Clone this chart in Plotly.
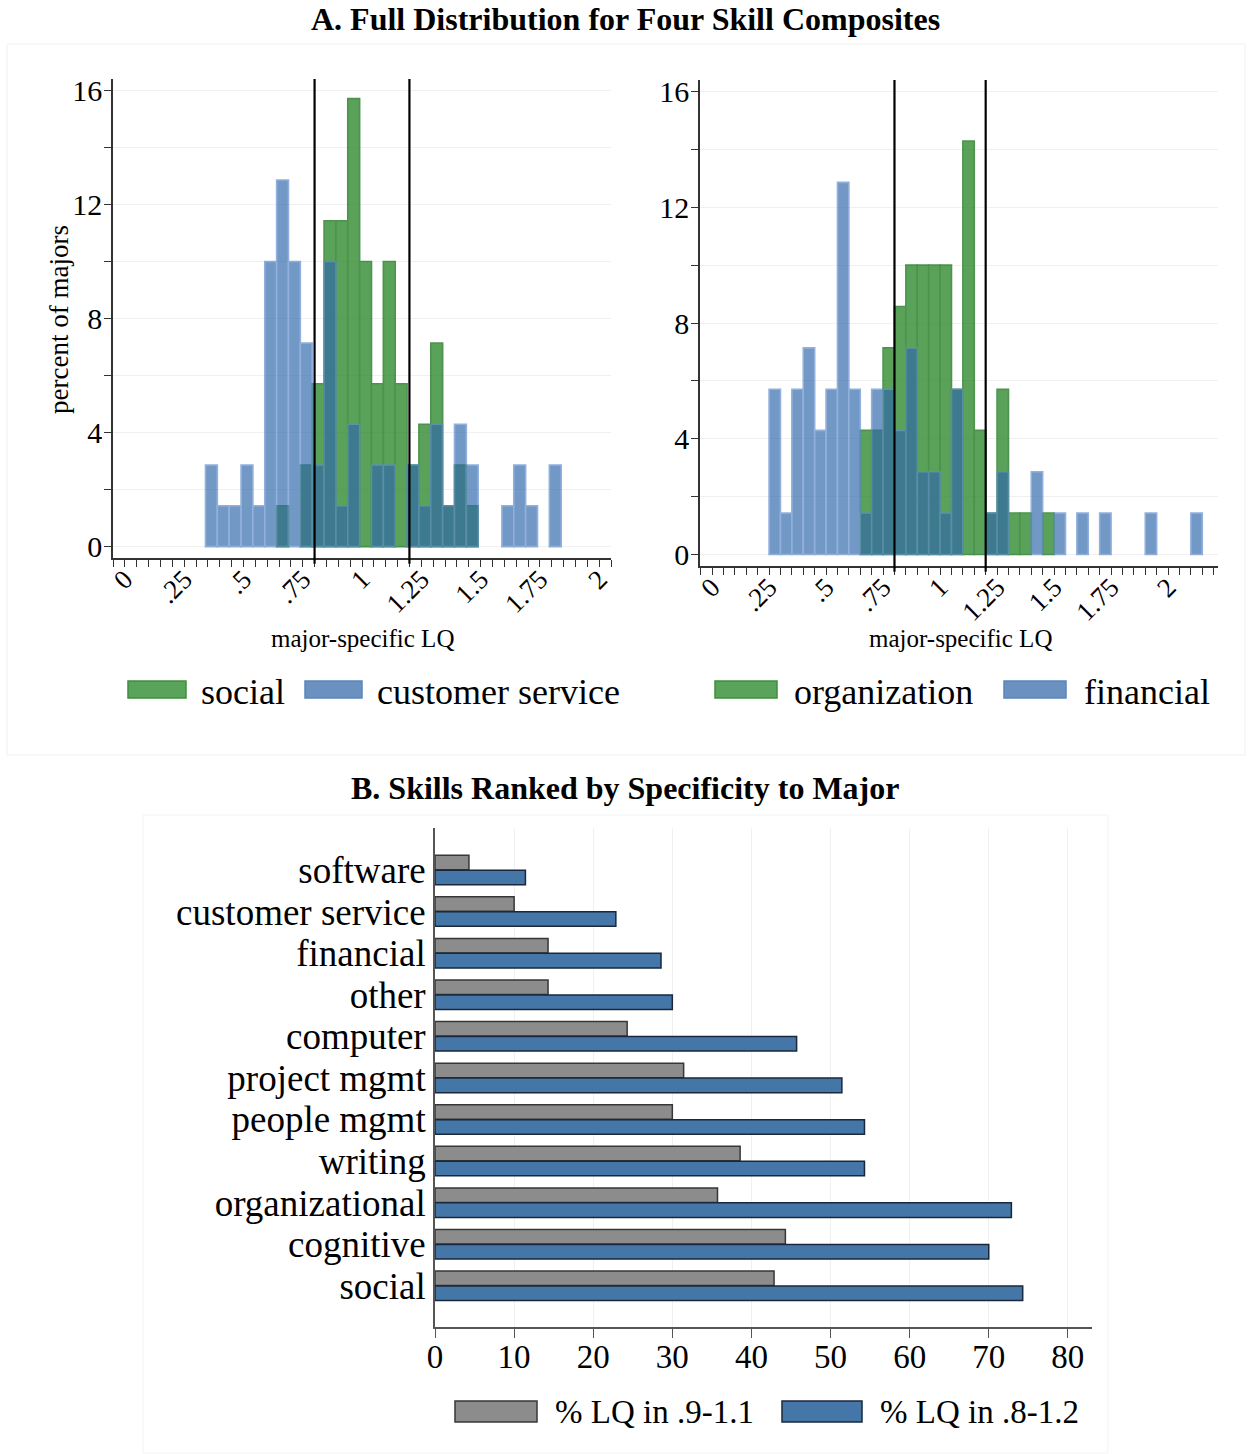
import plotly.graph_objects as go

# ---------------- data ----------------
bin_width = 0.05
left_bin_start = 0.34
social_pct = [0, 0, 0, 0, 0, 0, 1.43, 0, 2.86, 5.71, 11.43, 11.43, 15.71, 10, 5.71,
              10, 5.71, 2.86, 4.29, 7.14, 1.43, 2.86, 1.43, 0, 0, 0, 0, 0, 0, 0]
custserv_pct = [2.86, 1.43, 1.43, 2.86, 1.43, 10, 12.86, 10, 7.14, 2.86, 10, 1.43, 4.29, 0, 2.86,
                2.86, 0, 2.86, 1.43, 4.29, 1.43, 4.29, 2.86, 0, 0, 1.43, 2.86, 1.43, 0, 2.86]

org_bin_start = 0.65
organization_pct = [4.29, 4.29, 7.14, 8.57, 10, 10, 10, 10, 5.71, 14.29, 4.29, 1.43, 5.71, 1.43, 1.43, 0, 1.43]
fin_bin_start = 0.25
financial_pct = [5.71, 1.43, 5.71, 7.14, 4.29, 5.71, 12.86, 5.71, 1.43, 5.71, 5.71, 4.29, 7.14, 2.86, 2.86,
                 1.43, 5.71, 0, 0, 1.43, 2.86, 0, 0, 2.86, 0, 1.43, 0, 1.43, 0, 1.43, 0, 0, 0, 1.43,
                 0, 0, 0, 1.43]

lq_band = [0.8, 1.2]
lq_tickvals = [0, 0.25, 0.5, 0.75, 1, 1.25, 1.5, 1.75, 2]
lq_ticktext = ["0", ".25", ".5", ".75", "1", "1.25", "1.5", "1.75", "2"]

skills = ["software", "customer service", "financial", "other", "computer", "project mgmt",
          "people mgmt", "writing", "organizational", "cognitive", "social"]
pct_lq_narrow = [4.29, 10, 14.29, 14.29, 24.29, 31.43, 30, 38.57, 35.71, 44.29, 42.86]
pct_lq_wide = [11.43, 22.86, 28.57, 30, 45.71, 51.43, 54.29, 54.29, 72.86, 70, 74.29]

# ---------------- helpers ----------------
W, H = 1250, 1454
FONT = "Liberation Serif"


def xd(a, b):
    return [a / W, b / W]


def yd(top, bottom):
    return [1 - bottom / H, 1 - top / H]


def centers(start, n):
    return [start + bin_width * (i + 0.5) for i in range(n)]


def nonzero(vals):
    return [v if v > 0 else None for v in vals]


GREEN = "rgb(35,132,35)"
GREEN_LINE = "rgb(18,112,18)"
BLUE = "rgb(48,104,170)"
BLUE_LINE = "rgb(95,140,205)"

fig = go.Figure()


def hist_trace(xs, ys, color, line, op, xa, ya):
    return go.Bar(x=xs, y=nonzero(ys), width=bin_width,
                  marker=dict(color=color, line=dict(color=line, width=1.6)),
                  opacity=op, xaxis=xa, yaxis=ya, showlegend=False, hoverinfo="skip")


fig.add_trace(hist_trace(centers(left_bin_start, len(social_pct)), social_pct, GREEN, GREEN_LINE, 0.75, "x", "y"))
fig.add_trace(hist_trace(centers(left_bin_start, len(custserv_pct)), custserv_pct, BLUE, BLUE_LINE, 0.68, "x", "y"))
fig.add_trace(hist_trace(centers(org_bin_start, len(organization_pct)), organization_pct, GREEN, GREEN_LINE, 0.75, "x2", "y2"))
fig.add_trace(hist_trace(centers(fin_bin_start, len(financial_pct)), financial_pct, BLUE, BLUE_LINE, 0.68, "x2", "y2"))

# bottom grouped horizontal bars (manual offsets since layout is overlay)
fig.add_trace(go.Bar(y=skills, x=pct_lq_narrow, orientation="h", width=0.35, offset=-0.355,
                     marker=dict(color="rgb(140,140,140)", line=dict(color="rgb(55,55,55)", width=1.5)),
                     xaxis="x3", yaxis="y3", showlegend=False, hoverinfo="skip"))
fig.add_trace(go.Bar(y=skills, x=pct_lq_wide, orientation="h", width=0.35, offset=0.005,
                     marker=dict(color="rgb(68,118,168)", line=dict(color="rgb(25,40,60)", width=1.5)),
                     xaxis="x3", yaxis="y3", showlegend=False, hoverinfo="skip"))

# reference lines
for xa in ["x", "x2"]:
    for v in lq_band:
        fig.add_shape(type="line", xref=xa, yref=("y" if xa == "x" else "y2") + " domain",
                      x0=v, x1=v, y0=-0.012, y1=1, line=dict(color="black", width=2.2), layer="above")

AX = "#333333"
GRID = "#f0f0f0"


def hist_xaxis(domain, rng, anchor):
    return dict(domain=domain, range=rng, anchor=anchor, showline=True, linecolor=AX, linewidth=1.5,
                tickmode="array", tickvals=lq_tickvals, ticktext=lq_ticktext, tickangle=-45,
                ticks="outside", ticklen=7, tickcolor=AX, tickwidth=1.3, ticklabelstandoff=-14,
                minor=dict(dtick=0.05, tick0=0, ticks="outside", ticklen=7, tickcolor=AX, tickwidth=1.3),
                tickfont=dict(family=FONT, size=27, color="black"), showgrid=False, zeroline=False,
                automargin=False)


def hist_yaxis(domain, anchor):
    return dict(domain=domain, range=[-0.4, 16.4], anchor=anchor, showline=True, linecolor=AX, linewidth=1.5,
                tickmode="linear", tick0=0, dtick=4, ticks="outside", ticklen=7, tickcolor=AX, tickwidth=1.3,
                ticklabelstandoff=-4,
                minor=dict(dtick=2, tick0=0, ticks="outside", ticklen=7, tickcolor=AX, tickwidth=1.3,
                           showgrid=True, gridcolor=GRID, gridwidth=1),
                showgrid=True, gridcolor=GRID, gridwidth=1,
                tickfont=dict(family=FONT, size=30, color="black"), zeroline=False, automargin=False)


fig.update_layout(
    width=W, height=H, margin=dict(l=0, r=0, t=0, b=0), template="none",
    paper_bgcolor="white", plot_bgcolor="white", barmode="overlay", showlegend=False,
    font=dict(family=FONT, color="black"),
    xaxis=hist_xaxis(xd(113, 611), [-0.05, 2.05], "y"),
    yaxis=hist_yaxis(yd(79, 558), "x"),
    xaxis2=hist_xaxis(xd(700, 1218), [-0.053, 2.219], "y2"),
    yaxis2=hist_yaxis(yd(80, 566), "x2"),
    xaxis3=dict(domain=xd(435, 1092), range=[0, 83.05], anchor="y3", showline=True, linecolor="#555555",
                linewidth=1.8, tickmode="linear", tick0=0, dtick=10, ticks="outside", ticklen=9,
                tickcolor="#555555", tickwidth=1.3, showgrid=True, gridcolor=GRID, gridwidth=1,
                ticklabelstandoff=-10,
                tickfont=dict(family=FONT, size=33, color="black"), zeroline=False, automargin=False),
    yaxis3=dict(domain=yd(828, 1327), range=[10.99, -1.01], anchor="x3", type="category",
                categoryorder="array", categoryarray=skills, tickmode="array", tickvals=skills,
                ticktext=skills, showline=True, linecolor="#555555",
                linewidth=1.8, ticks="", showgrid=False, zeroline=False,
                tickfont=dict(family=FONT, size=37, color="black"), automargin=False),
)


def px_x(v):
    return v / W


def px_y(v):
    return 1 - v / H


anns = []


def text(x, y, s, size, xanchor="center", bold=False, angle=0):
    anns.append(dict(x=px_x(x), y=px_y(y), xref="paper", yref="paper", text=("<b>%s</b>" % s) if bold else s,
                     showarrow=False, xanchor=xanchor, yanchor="middle", textangle=angle,
                     font=dict(family=FONT, size=size, color="black")))


text(625, 19, "A. Full Distribution for Four Skill Composites", 32, bold=True)
text(625, 788, "B. Skills Ranked by Specificity to Major", 32, bold=True)
text(59, 320, "percent of majors", 27, angle=-90)
text(362, 638, "major-specific LQ", 25)
text(960, 638, "major-specific LQ", 25)
text(199, 692, "social", 36, xanchor="left")
text(375, 692, "customer service", 36, xanchor="left")
text(792, 692, "organization", 36, xanchor="left")
text(1082, 692, "financial", 36, xanchor="left")
text(553, 1412, "% LQ in .9-1.1", 33, xanchor="left")
text(878, 1412, "% LQ in .8-1.2", 33, xanchor="left")
fig.update_layout(annotations=anns)


def box(x0, y0, x1, y1, fill, line, lw=1.5):
    fig.add_shape(type="rect", xref="paper", yref="paper", x0=px_x(x0), x1=px_x(x1), y0=px_y(y1), y1=px_y(y0),
                  fillcolor=fill, line=dict(color=line, width=lw))


# panel frames
box(7, 44, 1245, 755, "rgba(0,0,0,0)", "#eef1f1", 1)
box(143, 815, 1108, 1453, "rgba(0,0,0,0)", "#f1f3f3", 1)
# legend keys
box(128, 681, 186, 698, "#5aa35a", "#3d8f3d")
box(305, 681, 362, 698, "#6a91c0", "#5a85ba")
box(715, 681, 777, 698, "#5aa35a", "#3d8f3d")
box(1004, 681, 1066, 698, "#6a91c0", "#5a85ba")
box(455, 1401, 537, 1422, "rgb(140,140,140)", "rgb(55,55,55)")
box(782, 1401, 862, 1422, "rgb(68,118,168)", "rgb(25,40,60)")

fig.write_html("out.html", config={"displayModeBar": False},
               post_script="document.body.style.margin='0';document.body.style.overflow='hidden';")
